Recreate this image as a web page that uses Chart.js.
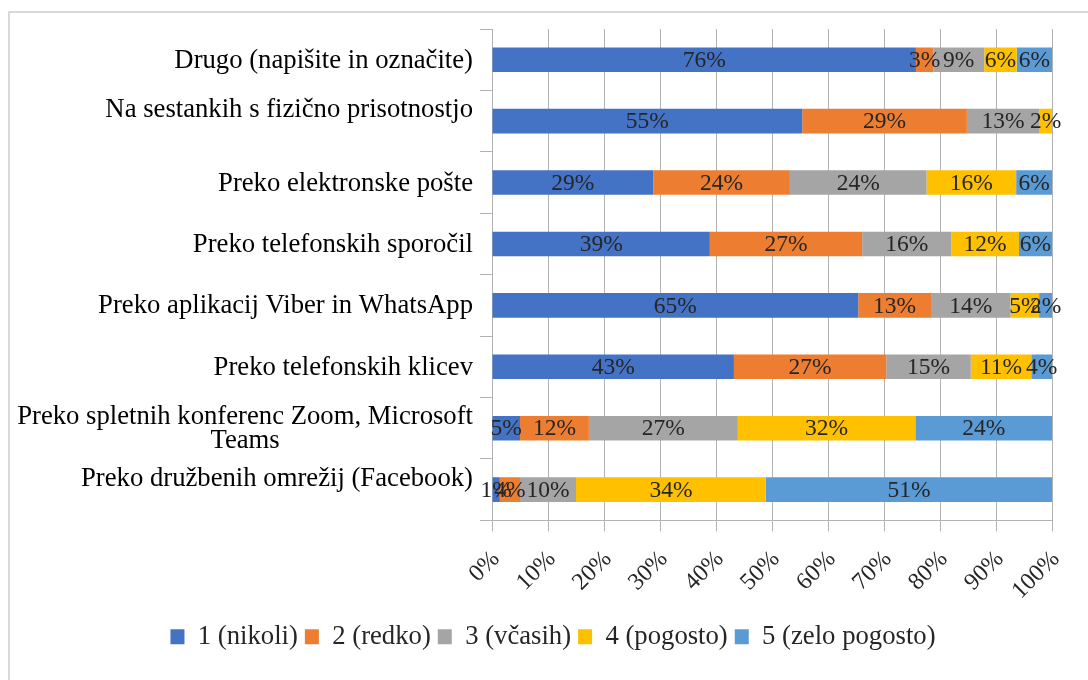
<!DOCTYPE html>
<html>
<head>
<meta charset="utf-8">
<script src="https://cdn.jsdelivr.net/npm/chart.js@4.4.0/dist/chart.umd.min.js"></script>
<style>
  html, body { margin: 0; padding: 0; background: #fff; }
  #frame { position: absolute; left: 8px; top: 11px; width: 1100px; height: 700px; border: 2px solid #d9d9d9; }
  #myChart { position: absolute; left: 0; top: 0; }
</style>
</head>
<body>
<div id="frame"></div>
<canvas id="myChart" width="1088" height="680"></canvas>
<script>
// categories, top to bottom
const categories = [
    ['Drugo (napišite in označite)'],
    ['Na sestankih s fizično prisotnostjo', ''],
    ['Preko elektronske pošte'],
    ['Preko telefonskih sporočil'],
    ['Preko aplikacij Viber in WhatsApp'],
    ['Preko telefonskih klicev'],
    ['Preko spletnih konferenc Zoom, Microsoft', 'Teams'],
    ['Preko družbenih omrežij (Facebook)', '']
];
const seriesNames = ['1 (nikoli)', '2 (redko)', '3 (včasih)', '4 (pogosto)', '5 (zelo pogosto)'];
const nikoli      = [75.7, 55.4, 28.8, 38.9, 65.4, 43.2, 5.0, 1.4];
const redko       = [3.1, 29.4, 24.4, 27.2, 13.0, 27.2, 12.3, 3.6];
const vcasih      = [9.1, 12.9, 24.4, 15.9, 14.2, 15.1, 26.6, 10.0];
const pogosto     = [5.8, 2.3, 16.0, 12.1, 5.1, 10.8, 31.7, 33.9];
const zeloPogosto = [6.3, 0, 6.4, 5.9, 2.3, 3.7, 24.4, 51.1];
const colors = ['#4472C4', '#ED7D31', '#A5A5A5', '#FFC000', '#5B9BD5'];

const serif = 'Liberation Serif';
const gridColor = '#b3b3b3';

// percent labels in the middle of each segment
const barLabels = {
    id: 'barLabels',
    afterDatasetsDraw(chart) {
        const ctx = chart.ctx;
        ctx.save();
        ctx.font = '23.5px "' + serif + '"';
        ctx.fillStyle = '#262626';
        ctx.textAlign = 'center';
        ctx.textBaseline = 'middle';
        chart.data.datasets.forEach(function(ds, i) {
            chart.getDatasetMeta(i).data.forEach(function(bar, j) {
                const v = ds.data[j];
                if (!v) return;
                ctx.fillText(Math.round(v) + '%', (bar.x + bar.base) / 2, bar.y + 1);
            });
        });
        ctx.restore();
    }
};

// category labels: block right aligned, lines centred inside the block
const catLabels = {
    id: 'catLabels',
    afterDraw(chart) {
        const ctx = chart.ctx;
        const y = chart.scales.y;
        const lineH = 24;
        ctx.save();
        ctx.font = '26.7px "' + serif + '"';
        ctx.fillStyle = '#000';
        ctx.textAlign = 'center';
        ctx.textBaseline = 'middle';
        categories.forEach(function(lines, i) {
            const py = y.getPixelForTick(i) + 1;
            const w = Math.max.apply(null, lines.map(function(t) { return ctx.measureText(t).width; }));
            const cx = y.right - 19 - w / 2;
            const top = py - (lines.length - 1) * lineH / 2;
            lines.forEach(function(t, k) {
                ctx.fillText(t, cx, top + k * lineH);
            });
        });
        ctx.restore();
    }
};

const ctx = document.getElementById('myChart');
const myChart = new Chart(ctx, {
    type: 'bar',
    data: {
        labels: categories,
        datasets: [
            { label: seriesNames[0], data: nikoli, backgroundColor: colors[0] },
            { label: seriesNames[1], data: redko, backgroundColor: colors[1] },
            { label: seriesNames[2], data: vcasih, backgroundColor: colors[2] },
            { label: seriesNames[3], data: pogosto, backgroundColor: colors[3] },
            { label: seriesNames[4], data: zeloPogosto, backgroundColor: colors[4] }
        ]
    },
    options: {
        responsive: false,
        animation: false,
        indexAxis: 'y',
        barPercentage: 0.4,
        categoryPercentage: 1,
        layout: { padding: { top: 29, right: 36, bottom: 20, left: 54 } },
        plugins: {
            legend: {
                position: 'bottom',
                labels: {
                    font: { family: serif, size: 26.7 },
                    color: '#262626',
                    boxWidth: 14,
                    boxHeight: 15,
                    padding: 7
                }
            },
            tooltip: { enabled: false }
        },
        scales: {
            x: {
                stacked: true,
                min: 0,
                max: 100,
                ticks: {
                    stepSize: 10,
                    callback: function(v) { return v + '%'; },
                    minRotation: 45,
                    maxRotation: 45,
                    padding: 14,
                    labelOffset: 4,
                    font: { family: serif, size: 24 },
                    color: '#262626'
                },
                grid: { color: gridColor, tickLength: 11 },
                border: { color: gridColor },
                afterFit: function(s) { s.height = 96; }
            },
            y: {
                stacked: true,
                ticks: { display: false },
                grid: { drawOnChartArea: false, color: gridColor, tickLength: 12 },
                border: { color: gridColor },
                afterFit: function(s) { s.width = 438; }
            }
        }
    },
    plugins: [barLabels, catLabels]
});
</script>
</body>
</html>
